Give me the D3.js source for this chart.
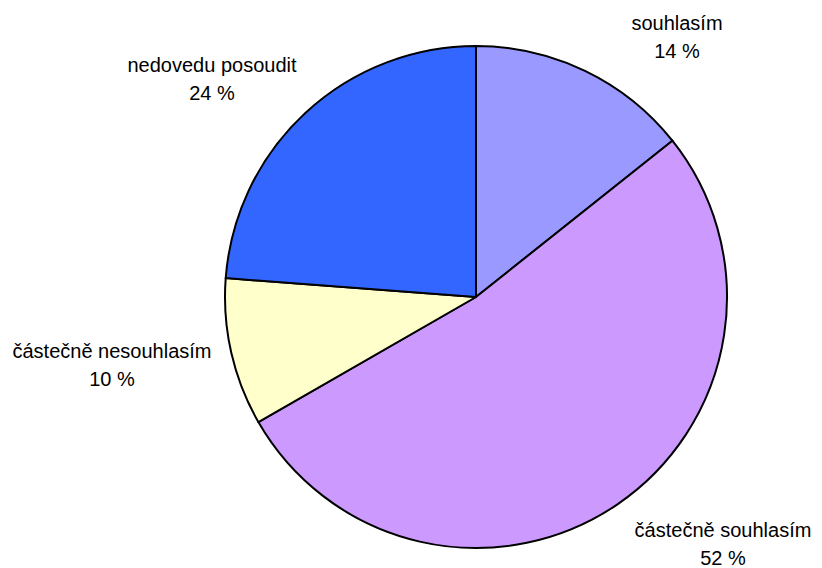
<!DOCTYPE html>
<html>
<head>
<meta charset="utf-8">
<script src="https://cdn.jsdelivr.net/npm/d3@7"></script>
<style>
  body { margin: 0; background: #fff; }
  text { font-family: "Liberation Sans", Arial, sans-serif; font-size: 20px; fill: #000; }
</style>
</head>
<body>
<svg id="chart" width="822" height="568"></svg>
<script>
const categories = ['souhlasím', 'částečně souhlasím', 'částečně nesouhlasím', 'nedovedu posoudit'];
const values = [14.3, 52.4, 9.5, 23.8];
const percentLabels = ['14 %', '52 %', '10 %', '24 %'];
const colors = ['#9999FF', '#CC99FF', '#FFFFCC', '#3366FF'];

// where Excel put each label (text centre, first line baseline)
const labelPos = [[677, 30], [723, 537], [112, 358], [212, 72]];

const svg = d3.select('#chart');
const cx = 476, cy = 297, r = 251;

const pie = d3.pie().sort(null).value(d => d)(values);
const arc = d3.arc().innerRadius(0).outerRadius(r);

const g = svg.append('g').attr('transform', `translate(${cx},${cy})`);

g.selectAll('path')
  .data(pie)
  .join('path')
  .attr('d', arc)
  .attr('fill', (d, i) => colors[i])
  .attr('stroke', '#000')
  .attr('stroke-width', 2)
  .attr('stroke-linejoin', 'round');

const labels = svg.selectAll('text.lbl')
  .data(categories)
  .join('text')
  .attr('class', 'lbl')
  .attr('text-anchor', 'middle')
  .attr('x', (d, i) => labelPos[i][0])
  .attr('y', (d, i) => labelPos[i][1]);

labels.append('tspan').text(d => d);
labels.append('tspan')
  .attr('x', (d, i) => labelPos[i][0])
  .attr('dy', 28)
  .text((d, i) => percentLabels[i]);
</script>
</body>
</html>
